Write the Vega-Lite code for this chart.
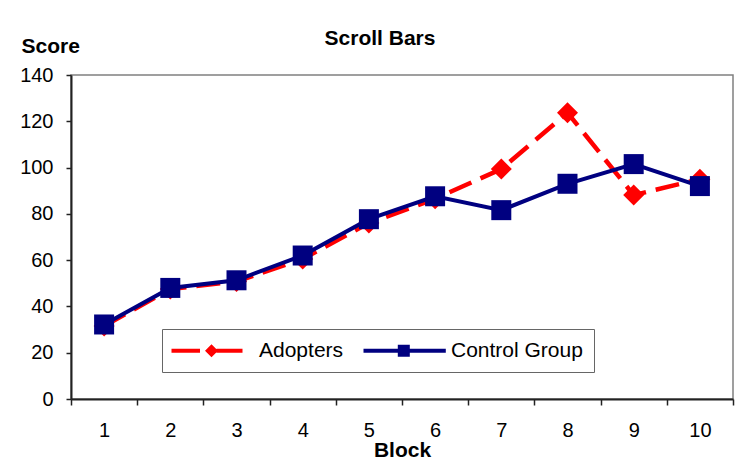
{
  "$schema": "https://vega.github.io/schema/vega-lite/v6.json",
  "width": 662,
  "height": 324,
  "autosize": {"type": "none"},
  "padding": {"left": 71, "top": 75, "right": 15, "bottom": 71},
  "background": "white",
  "config": {
    "font": "Liberation Sans",
    "view": {"stroke": "#808080", "strokeWidth": 1.5},
    "axis": {"grid": false, "domainColor": "#222222", "domainWidth": 2, "tickColor": "#222222", "tickWidth": 1.5, "labelColor": "black", "titleColor": "black", "labelFont": "Liberation Sans", "titleFont": "Liberation Sans"}
  },
  "title": {"text": "Scroll Bars", "fontSize": 21, "fontWeight": "bold", "font": "Liberation Sans", "color": "black", "anchor": "middle", "dx": -22, "dy": 31, "offset": 0, "baseline": "alphabetic"},
  "data": {
    "values": [
      {"block": 1, "series": "Adopters", "score": 31.5},
      {"block": 2, "series": "Adopters", "score": 47.5},
      {"block": 3, "series": "Adopters", "score": 50.8},
      {"block": 4, "series": "Adopters", "score": 60.5},
      {"block": 5, "series": "Adopters", "score": 76},
      {"block": 6, "series": "Adopters", "score": 86.5},
      {"block": 7, "series": "Adopters", "score": 99.4},
      {"block": 8, "series": "Adopters", "score": 123.7},
      {"block": 9, "series": "Adopters", "score": 88.1},
      {"block": 10, "series": "Adopters", "score": 95},
      {"block": 1, "series": "Control Group", "score": 32.2},
      {"block": 2, "series": "Control Group", "score": 48},
      {"block": 3, "series": "Control Group", "score": 51.3},
      {"block": 4, "series": "Control Group", "score": 62},
      {"block": 5, "series": "Control Group", "score": 77.7},
      {"block": 6, "series": "Control Group", "score": 87.6},
      {"block": 7, "series": "Control Group", "score": 81.6},
      {"block": 8, "series": "Control Group", "score": 93},
      {"block": 9, "series": "Control Group", "score": 101.5},
      {"block": 10, "series": "Control Group", "score": 92}
    ]
  },
  "encoding": {
    "x": {
      "field": "block", "type": "ordinal", "bandPosition": 0.5,
      "scale": {"type": "band", "paddingInner": 0, "paddingOuter": 0},
      "axis": {"title": "Block", "labelAngle": 0, "tickBand": "extent", "tickSize": 6, "labelFontSize": 20, "labelBaseline": "alphabetic", "labelPadding": 31, "titleFontSize": 21, "titleFontWeight": "bold", "titleY": 57, "titleBaseline": "alphabetic", "titleAnchor": "middle"}
    },
    "y": {
      "field": "score", "type": "quantitative",
      "scale": {"domain": [0, 140], "nice": false, "zero": true},
      "axis": {"title": "Score", "values": [0, 20, 40, 60, 80, 100, 120, 140], "tickSize": 5, "labelFontSize": 20, "labelPadding": 13, "titleFontSize": 21, "titleFontWeight": "bold", "titleAngle": 0, "titleAlign": "left", "titleBaseline": "alphabetic", "titleX": -50, "titleY": -23}
    }
  },
  "layer": [
    {
      "transform": [{"filter": "datum.series == 'Adopters'"}],
      "mark": {"type": "line", "color": "#FF0000", "strokeWidth": 4.5, "strokeDash": [24, 10]}
    },
    {
      "transform": [{"filter": "datum.series == 'Adopters'"}],
      "mark": {"type": "point", "shape": "diamond", "filled": true, "color": "#FF0000", "size": 441, "opacity": 1}
    },
    {
      "transform": [{"filter": "datum.series == 'Control Group'"}],
      "mark": {"type": "line", "color": "#000080", "strokeWidth": 4}
    },
    {
      "transform": [{"filter": "datum.series == 'Control Group'"}],
      "mark": {"type": "point", "shape": "square", "filled": true, "color": "#000080", "size": 400, "opacity": 1}
    },
    {
      "transform": [{"filter": "false"}],
      "mark": {"type": "point", "filled": true, "opacity": 1},
      "encoding": {
        "color": {
          "field": "series", "type": "nominal",
          "scale": {"domain": ["Adopters", "Control Group"], "range": ["#FF0000", "#000080"]},
          "legend": {"title": null, "orient": "none", "legendX": 91, "legendY": 254, "direction": "horizontal", "symbolSize": 400, "labelFontSize": 21, "labelFont": "Liberation Sans", "labelColor": "black", "labelOffset": 65, "columnPadding": 19, "padding": 11, "strokeColor": "#666666", "fillColor": "white", "symbolStrokeWidth": 0}
        },
        "shape": {
          "field": "series", "type": "nominal",
          "scale": {"domain": ["Adopters", "Control Group"], "range": ["M-1.2,-0.2H1.65V0.2H-1.2Z M2.8,-0.65L3.45,0L2.8,0.65L2.15,0Z M3.3,-0.2H5.9V0.2H3.3Z", "M-1.2,-0.2H7.03V0.2H-1.2Z M2.23,-0.6H3.43V0.6H2.23Z"]},
          "legend": {"title": null, "orient": "none", "legendX": 91, "legendY": 254, "direction": "horizontal", "symbolSize": 400, "labelFontSize": 21, "labelFont": "Liberation Sans", "labelColor": "black", "labelOffset": 65, "columnPadding": 19, "padding": 11, "strokeColor": "#666666", "fillColor": "white", "symbolStrokeWidth": 0}
        }
      }
    }
  ]
}
